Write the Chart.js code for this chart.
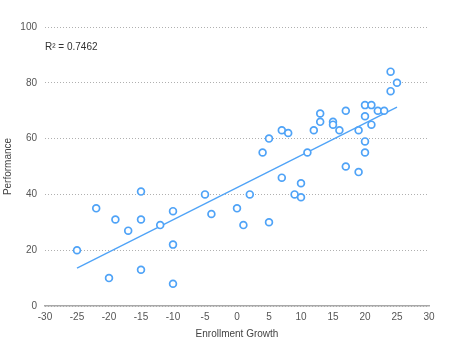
<!DOCTYPE html>
<html>
<head>
<meta charset="utf-8">
<script src="https://cdn.jsdelivr.net/npm/chart.js@4/dist/chart.umd.min.js"></script>
<style>
html,body{margin:0;padding:0;background:#fff;}
#wrap{width:450px;height:351px;}
</style>
</head>
<body>
<div id="wrap"><canvas id="c" width="450" height="351"></canvas></div>
<script>
const enrollmentGrowth = [-25,-22,-20,-19,-17,-15,-15,-15,-12,-10,-10,-10,-5,-4,0,1,2,4,5,5,7,7,8,9,10,10,11,12,13,13,15,15,16,17,17,19,19,20,20,20,20,21,21,22,23,24,24,25];
const performance    = [20,35,10,31,27,41,31,13,29,34,22,8,40,33,35,29,40,55,60,30,63,46,62,40,44,39,55,63,66,69,66,65,63,70,50,63,48,72,68,59,55,72,65,70,70,84,77,80];
const trendX = [-25, 25];
const trendY = [13.6, 71.3];
const rSquaredLabel = "R² = 0.7462";

const blue = '#4fa3f7';
const font = {family: "'Liberation Sans', Arial, Helvetica, sans-serif", size: 10};

const rLabelPlugin = {
  id: 'rlabel',
  afterDatasetsDraw(chart) {
    const ctx = chart.ctx, a = chart.chartArea;
    ctx.save();
    ctx.font = "10px 'Liberation Sans', Arial, sans-serif";
    ctx.fillStyle = '#333';
    ctx.textBaseline = 'middle';
    ctx.textAlign = 'left';
    ctx.fillText(rSquaredLabel, a.left, a.top + 20);
    ctx.restore();
  }
};

new Chart(document.getElementById('c'), {
  type: 'scatter',
  data: {
    datasets: [
      {
        type: 'scatter',
        data: enrollmentGrowth.map((x, i) => ({x, y: performance[i]})),
        borderColor: blue,
        backgroundColor: '#fff',
        borderWidth: 1.7,
        pointRadius: 3.4,
        order: 1
      },
      {
        type: 'line',
        data: trendX.map((x, i) => ({x, y: trendY[i]})),
        borderColor: blue,
        borderWidth: 1.3,
        pointRadius: 0,
        fill: false,
        order: 2
      }
    ]
  },
  options: {
    responsive: false,
    animation: false,
    layout: {padding: {left: 0, right: 21, top: 27, bottom: 0}},
    plugins: {legend: {display: false}, tooltip: {enabled: false}},
    scales: {
      x: {
        type: 'linear',
        min: -30, max: 30,
        ticks: {stepSize: 5, font, color: '#555', padding: 5},
        grid: {display: false, drawTicks: false},
        border: {display: true, color: '#a8a8a8', width: 1.5},
        title: {display: true, text: 'Enrollment Growth', font, color: '#444', padding: {top: 11, bottom: 11}},
        afterFit(s) { s.height = 45; }
      },
      y: {
        min: 0, max: 100,
        ticks: {stepSize: 20, font, color: '#555', padding: 8},
        grid: {color: '#b0b0b0', drawTicks: false, lineWidth: 1},
        border: {display: false, dash: [1, 2]},
        title: {display: true, text: 'Performance', font, color: '#444', padding: {top: 2, bottom: 2}},
        afterFit(s) { s.width = 45; }
      }
    }
  },
  plugins: [rLabelPlugin]
});
</script>
</body>
</html>
